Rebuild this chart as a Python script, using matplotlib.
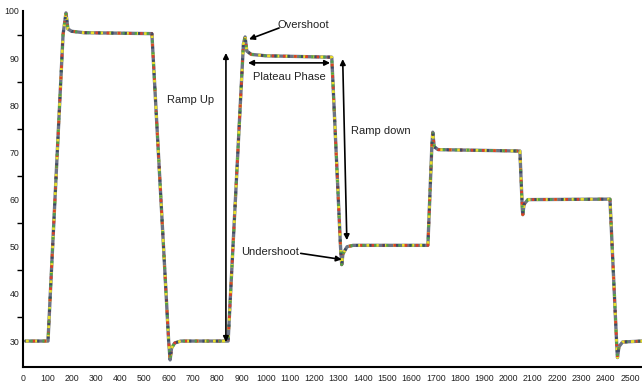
import numpy as np
import matplotlib.pyplot as plt
from matplotlib.ticker import MultipleLocator

# temperature profile (time, value)
time = [10, 103, 165, 177, 185, 200, 250, 531, 600, 606, 612, 625, 650,
        845, 908, 915, 922, 940, 1000, 1272, 1308, 1313, 1318, 1335, 1360,
        1668, 1684, 1688, 1694, 1710, 2047, 2057, 2059, 2064, 2080,
        2418, 2446, 2449, 2455, 2470, 2550]
value = [30, 30, 95, 99.6, 96.2, 95.7, 95.4, 95.2, 30, 26, 28.5, 29.6, 30,
         30, 93, 94.5, 91.5, 90.8, 90.5, 90.2, 50, 46.2, 48.5, 50, 50.3,
         50.3, 71, 74.3, 71.2, 70.6, 70.3, 58, 56.8, 59, 60,
         60.1, 29, 26.5, 28.8, 29.8, 30]

xticks = list(range(0, 2600, 100))
yticks = list(range(30, 101, 10))

trace_colors = ["#6d7384", "#e8df2a", "#d8402a", "#4fa04a", "#3d4a66"]
trace_dashes = [None, (0, (1.2, 2.0)), (1.5, (1.0, 3.0)), (2.5, (0.8, 3.5)), (0.6, (0.8, 4.0))]

fig = plt.figure(figsize=(6.42, 3.84), dpi=100)
ax = fig.add_axes([23 / 642, 17 / 384, 619 / 642, 356 / 384])

for c, d in zip(trace_colors, trace_dashes):
    if d is None:
        ax.plot(time, value, color=c, lw=2.4, solid_capstyle="round")
    else:
        ax.plot(time, value, color=c, lw=2.0, linestyle=d)

ax.set_xlim(0, 2550)
ax.set_ylim(24.5, 100)
ax.set_xticks(xticks)
ax.set_yticks(yticks)
ax.set_yticks([35, 45, 55, 65, 75, 85, 95], minor=True)

for s in ["top", "right"]:
    ax.spines[s].set_visible(False)
for s in ["left", "bottom"]:
    ax.spines[s].set_linewidth(1.5)

tick_font = ["Liberation Sans Narrow", "Liberation Sans", "DejaVu Sans"]
ax.tick_params(axis="x", length=0, pad=5, labelsize=6.3, labelcolor="#222222")
ax.tick_params(axis="y", which="major", length=0, pad=2.5, labelsize=6.3, labelcolor="#222222")
ax.tick_params(axis="y", which="minor", length=4, width=1, direction="out")
for lab in ax.get_xticklabels() + ax.get_yticklabels():
    lab.set_family(tick_font)

txt = dict(fontsize=8, family=["Liberation Sans", "DejaVu Sans"], ha="center", va="center",
           color="#222222")
dbl = dict(arrowstyle="<|-|>", color="black", lw=1.2, mutation_scale=8, shrinkA=0, shrinkB=0)
one = dict(arrowstyle="-|>", color="black", lw=1.2, mutation_scale=8, shrinkA=0, shrinkB=0)

ax.text(690, 81.1, "Ramp Up", **txt)
ax.annotate("", xy=(836, 91.1), xytext=(836, 29.8), arrowprops=dbl)

ax.text(1156, 97.0, "Overshoot", **txt)
ax.annotate("", xy=(931, 94.0), xytext=(1055, 96.4), arrowprops=one)

ax.text(1098, 86.0, "Plateau Phase", **txt)
ax.annotate("", xy=(927, 89.0), xytext=(1265, 89.0), arrowprops=dbl)

ax.text(1473, 74.5, "Ramp down", **txt)
ax.annotate("", xy=(1317, 89.8), xytext=(1334, 51.4), arrowprops=dbl)

ax.text(1018, 48.95, "Undershoot", **txt)
ax.annotate("", xy=(1313, 47.3), xytext=(1144, 48.6), arrowprops=one)

fig.savefig("out.png", dpi=100)
